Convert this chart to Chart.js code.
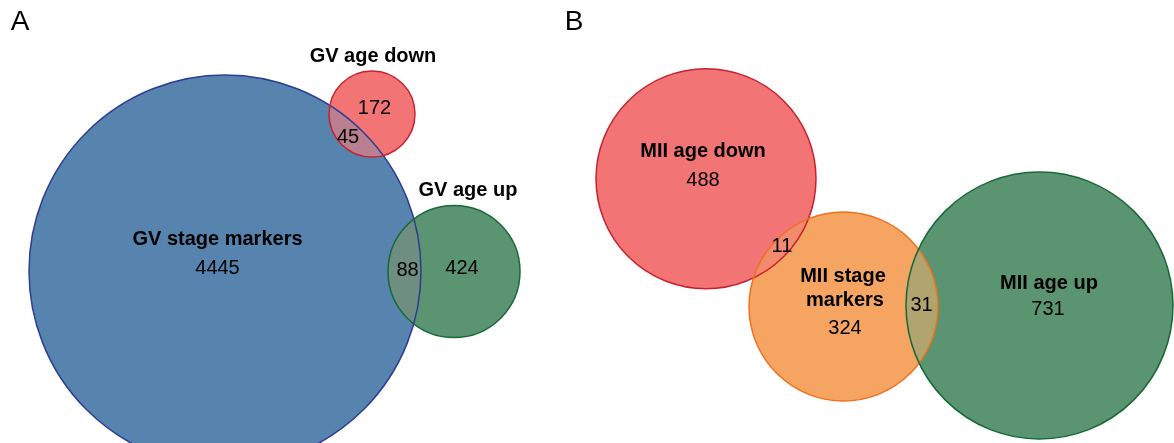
<!DOCTYPE html>
<html>
<head>
<meta charset="utf-8">
<script src="https://cdn.jsdelivr.net/npm/chart.js@4/dist/chart.umd.min.js"></script>
<style>
  html, body { margin: 0; padding: 0; background: #fff; }
  #wrap { width: 1174px; height: 443px; position: relative; }
</style>
</head>
<body>
<div id="wrap"><canvas id="venn"></canvas></div>
<script>
// sets: name, centre (x, y) and radius, in plot units (0..1174 x 0..443)
var setNames   = ['GV stage markers', 'GV age down', 'GV age up', 'MII age down', 'MII stage markers', 'MII age up'];
var setX       = [225, 372, 454, 706, 843.5, 1039.5];
var setY       = [271, 114, 271.5, 178.7, 306.5, 305.5];
var setR       = [196, 43, 66, 110, 94.5, 133.5];
var fillColors = ['#5784ae', '#f27474', '#5b9470', '#f27474', '#f5a561', '#5b9470'];
var lineColors = ['#2e3d92', '#c8202f', '#17693a', '#c8202f', '#f0701e', '#17693a'];

// overlapping pairs (index a, index b) and the colour of the shared part
var overlapA     = [0, 0, 3, 4];
var overlapB     = [1, 2, 4, 5];
var overlapColor = ['#ba8091', '#6e8e82', '#f28b6e', '#b0a56f'];

// counts and titles
var labelText = ['A', 'B', 'GV age down', 'GV age up', 'GV stage markers', '4445', '172', '45', '88', '424',
                 'MII age down', '488', '11', 'MII stage', 'markers', '324', '31', 'MII age up', '731'];
var labelX    = [20, 574, 373, 468, 217.5, 217.5, 374.5, 348, 407.5, 462,
                 703, 703, 782, 843, 845, 845, 921.5, 1049, 1048];
var labelY    = [19.5, 19.5, 55, 189, 238, 267, 107, 136, 269, 267,
                 150, 179, 245, 275, 299, 327, 304, 282, 308];
var labelBold = [0, 0, 1, 1, 1, 0, 0, 0, 0, 0, 1, 0, 0, 1, 1, 0, 0, 1, 0];

function radiusPx(chart, i) {
  var s = chart.scales.x;
  return s.getPixelForValue(setX[i] + setR[i]) - s.getPixelForValue(setX[i]);
}

function circlePath(ctx, chart, i) {
  var el = chart.getDatasetMeta(i).data[0];
  ctx.beginPath();
  ctx.arc(el.x, el.y, radiusPx(chart, i), 0, Math.PI * 2);
}

var vennPlugin = {
  id: 'vennOverlap',
  afterDatasetsDraw: function (chart) {
    var ctx = chart.ctx;
    ctx.save();
    for (var k = 0; k < overlapA.length; k++) {
      ctx.save();
      circlePath(ctx, chart, overlapA[k]);
      ctx.clip();
      circlePath(ctx, chart, overlapB[k]);
      ctx.fillStyle = overlapColor[k];
      ctx.fill();
      ctx.restore();
    }
    for (var i = 0; i < setNames.length; i++) {
      circlePath(ctx, chart, i);
      ctx.lineWidth = 1.5;
      ctx.strokeStyle = lineColors[i];
      ctx.stroke();
    }
    ctx.fillStyle = '#000';
    ctx.textAlign = 'center';
    ctx.textBaseline = 'alphabetic';
    for (var j = 0; j < labelText.length; j++) {
      var size = j < 2 ? 28 : 20;
      ctx.font = (labelBold[j] ? 'bold ' : '') + size + 'px "Liberation Sans", Arial, sans-serif';
      var px = chart.scales.x.getPixelForValue(labelX[j]);
      var py = chart.scales.y.getPixelForValue(labelY[j]);
      ctx.fillText(labelText[j], px, py + size * 0.358);
    }
    ctx.restore();
  }
};

var datasets = setNames.map(function (name, i) {
  return {
    label: name,
    data: [{ x: setX[i], y: setY[i] }],
    backgroundColor: fillColors[i],
    borderColor: lineColors[i],
    borderWidth: 0,
    clip: false,
    order: i
  };
});

var chart = new Chart(document.getElementById('venn'), {
  type: 'bubble',
  data: { datasets: datasets },
  plugins: [vennPlugin],
  options: {
    responsive: true,
    maintainAspectRatio: false,
    animation: false,
    events: [],
    layout: { padding: 0, autoPadding: false },
    plugins: { legend: { display: false }, tooltip: { enabled: false } },
    scales: {
      x: { type: 'linear', min: 0, max: 1174, display: false },
      y: { type: 'linear', min: 0, max: 443, reverse: true, display: false }
    }
  }
});

// bubble radius is in pixels: convert each set's radius through the x scale
chart.data.datasets.forEach(function (ds, i) {
  ds.data[0].r = radiusPx(chart, i);
});
chart.update();
</script>
</body>
</html>
